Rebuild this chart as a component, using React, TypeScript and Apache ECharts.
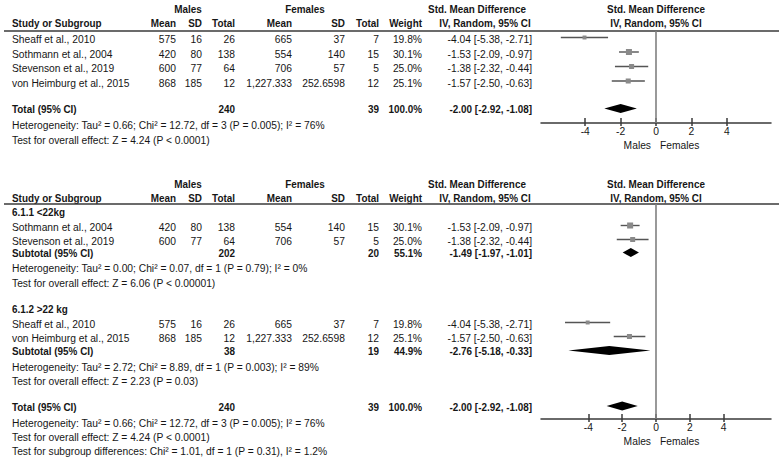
import React, { useEffect, useRef } from "react";
import * as echarts from "echarts";

// ---------------- DATA ----------------
const studies = ["Sheaff et al., 2010", "Sothmann et al., 2004", "Stevenson et al., 2019", "von Heimburg et al., 2015"];
const maleMean = ["575", "420", "600", "868"];
const maleSD = ["16", "80", "77", "185"];
const maleN = [26, 138, 64, 12];
const femaleMean = ["665", "554", "706", "1,227.333"];
const femaleSD = ["37", "140", "57", "252.6598"];
const femaleN = [7, 15, 5, 12];
const weights = [19.8, 30.1, 25.0, 25.1];
const smd = [-4.04, -1.53, -1.38, -1.57];
const ciLow = [-5.38, -2.09, -2.32, -2.5];
const ciHigh = [-2.71, -0.97, -0.44, -0.63];

const overallN = [240, 39];
const overallWeight = 100.0;
const overallEffect = [-2.0, -2.92, -1.08];
const overallHet = "Heterogeneity: Tau\u00b2 = 0.66; Chi\u00b2 = 12.72, df = 3 (P = 0.005); I\u00b2 = 76%";
const overallTest = "Test for overall effect: Z = 4.24 (P < 0.0001)";
const subgroupDiffTest = "Test for subgroup differences: Chi\u00b2 = 1.01, df = 1 (P = 0.31), I\u00b2 = 1.2%";

const subgroupNames = ["6.1.1 <22kg", "6.1.2 >22 kg"];
const subgroupMembers = [[1, 2], [0, 3]];
const subgroupN = [[202, 20], [38, 19]];
const subgroupWeight = [55.1, 44.9];
const subgroupEffect = [[-1.49, -1.97, -1.01], [-2.76, -5.18, -0.33]];
const subgroupHet = [
  "Heterogeneity: Tau\u00b2 = 0.00; Chi\u00b2 = 0.07, df = 1 (P = 0.79); I\u00b2 = 0%",
  "Heterogeneity: Tau\u00b2 = 2.72; Chi\u00b2 = 8.89, df = 1 (P = 0.003); I\u00b2 = 89%",
];
const subgroupTest = ["Test for overall effect: Z = 6.06 (P < 0.00001)", "Test for overall effect: Z = 2.23 (P = 0.03)"];

const xTicks = [-4, -2, 0, 2, 4];
const favourLabels = ["Males", "Females"];

// ---------------- LAYOUT ----------------
const FONT = "'Liberation Sans', Arial, Helvetica, sans-serif";
const FS = 11;
const SX = 0.935;
const SX_BOLD = 0.9;
const TXT = "#161616";
const COL = { study: 12, mMean: 176, mSD: 202, mN: 235, fMean: 292, fSD: 345, fN: 379, w: 422, ci: 532, males: 188, females: 305, smdHdr: 477, ivHdr: 485, plot: 656 };
const MARK_OFF = 1.5;

const TOP = { hdr1: 9, hdr2: 23, line: 31, rows: [39, 53.5, 68, 82.5], total: 109, het: 125, test: 140, axis: 123, fav: 145, range: 6.5 };
const BOT = {
  hdr1: 184, hdr2: 198, line: 204,
  sub: [
    { title: 212, rows: [227, 241], subtotal: 253, het: 268, test: 283 },
    { title: 309, rows: [324, 338], subtotal: 351, het: 367, test: 381 },
  ],
  total: 407, het: 423, test: 437, diff: 451, axis: 419, fav: 441, range: 6.8,
};
const PLOT_LEFT = 541;
const PLOT_W = 230;

function fmtCI(e: number[]) {
  return `${e[0].toFixed(2)} [${e[1].toFixed(2)}, ${e[2].toFixed(2)}]`;
}

function txt(x: number, y: number, text: string, align = "left", bold = false) {
  return {
    type: "text",
    x,
    y,
    scaleX: bold ? SX_BOLD : SX,
    silent: true,
    style: { text, fill: TXT, fontFamily: FONT, fontSize: FS, fontWeight: bold ? "bold" : "normal", align, verticalAlign: "middle" },
  };
}

function headers(y1: number, y2: number, lineY: number) {
  return [
    txt(COL.males, y1, "Males", "center", true),
    txt(COL.females, y1, "Females", "center", true),
    txt(COL.smdHdr, y1, "Std. Mean Difference", "center", true),
    txt(COL.plot, y1, "Std. Mean Difference", "center", true),
    txt(COL.study, y2, "Study or Subgroup", "left", true),
    txt(COL.mMean, y2, "Mean", "right", true),
    txt(COL.mSD, y2, "SD", "right", true),
    txt(COL.mN, y2, "Total", "right", true),
    txt(COL.fMean, y2, "Mean", "right", true),
    txt(COL.fSD, y2, "SD", "right", true),
    txt(COL.fN, y2, "Total", "right", true),
    txt(COL.w, y2, "Weight", "right", true),
    txt(COL.ivHdr, y2, "IV, Random, 95% CI", "center", true),
    txt(COL.plot, y2, "IV, Random, 95% CI", "center", true),
    { type: "line", silent: true, shape: { x1: 4, y1: lineY, x2: 779, y2: lineY }, style: { stroke: "#3a3a3a", lineWidth: 1.5 } },
  ];
}

function studyRow(i: number, y: number) {
  return [
    txt(COL.study, y, studies[i]),
    txt(COL.mMean, y, maleMean[i], "right"),
    txt(COL.mSD, y, maleSD[i], "right"),
    txt(COL.mN, y, String(maleN[i]), "right"),
    txt(COL.fMean, y, femaleMean[i], "right"),
    txt(COL.fSD, y, femaleSD[i], "right"),
    txt(COL.fN, y, String(femaleN[i]), "right"),
    txt(COL.w, y, weights[i].toFixed(1) + "%", "right"),
    txt(COL.ci, y, fmtCI([smd[i], ciLow[i], ciHigh[i]]), "right"),
  ];
}

function pooledRow(label: string, y: number, n: number[], w: number, e: number[]) {
  return [
    txt(COL.study, y, label, "left", true),
    txt(COL.mN, y, String(n[0]), "right", true),
    txt(COL.fN, y, String(n[1]), "right", true),
    txt(COL.w, y, w.toFixed(1) + "%", "right", true),
    txt(COL.ci, y, fmtCI(e), "right", true),
  ];
}

function favour(y: number) {
  return [txt(COL.plot - 5, y, favourLabels[0], "right"), txt(COL.plot + 4, y, favourLabels[1], "left")];
}

function buildOption() {
  const g: any[] = [];
  // Top panel
  g.push(...headers(TOP.hdr1, TOP.hdr2, TOP.line));
  studies.forEach((_, i) => g.push(...studyRow(i, TOP.rows[i])));
  g.push(...pooledRow("Total (95% CI)", TOP.total, overallN, overallWeight, overallEffect));
  g.push(txt(COL.study, TOP.het, overallHet), txt(COL.study, TOP.test, overallTest));
  g.push(...favour(TOP.fav));

  // Bottom panel
  g.push(...headers(BOT.hdr1, BOT.hdr2, BOT.line));
  subgroupNames.forEach((name, s) => {
    const L = BOT.sub[s];
    g.push(txt(COL.study, L.title, name, "left", true));
    subgroupMembers[s].forEach((idx, k) => g.push(...studyRow(idx, L.rows[k])));
    g.push(...pooledRow("Subtotal (95% CI)", L.subtotal, subgroupN[s], subgroupWeight[s], subgroupEffect[s]));
    g.push(txt(COL.study, L.het, subgroupHet[s]), txt(COL.study, L.test, subgroupTest[s]));
  });
  g.push(...pooledRow("Total (95% CI)", BOT.total, overallN, overallWeight, overallEffect));
  g.push(txt(COL.study, BOT.het, overallHet), txt(COL.study, BOT.test, overallTest), txt(COL.study, BOT.diff, subgroupDiffTest));
  g.push(...favour(BOT.fav));

  // Marks data: [est, lo, hi, y, size, kind]
  const topData: number[][] = studies.map((_, i) => [smd[i], ciLow[i], ciHigh[i], TOP.rows[i] - MARK_OFF, weights[i], 0]);
  topData.push([overallEffect[0], overallEffect[1], overallEffect[2], TOP.total - 0.5, overallWeight, 1]);

  const botData: number[][] = [];
  subgroupNames.forEach((_, s) => {
    const L = BOT.sub[s];
    subgroupMembers[s].forEach((idx, k) => botData.push([smd[idx], ciLow[idx], ciHigh[idx], L.rows[k] - MARK_OFF, weights[idx], 0]));
    const e = subgroupEffect[s];
    botData.push([e[0], e[1], e[2], L.subtotal - 0.5, subgroupWeight[s], 1]);
  });
  botData.push([overallEffect[0], overallEffect[1], overallEffect[2], BOT.total - 1, overallWeight, 1]);

  const renderItem = (params: any, api: any) => {
    const est = api.value(0), lo = api.value(1), hi = api.value(2), y = api.value(3), w = api.value(4), kind = api.value(5);
    const pLo = api.coord([lo, y]);
    const pHi = api.coord([hi, y]);
    const pE = api.coord([est, y]);
    if (kind === 0) {
      const s = w * 0.2;
      return {
        type: "group",
        children: [
          { type: "line", shape: { x1: pLo[0], y1: pE[1], x2: pHi[0], y2: pE[1] }, style: { stroke: "#555555", lineWidth: 1.4 } },
          { type: "rect", shape: { x: pE[0] - s / 2, y: pE[1] - s / 2, width: s, height: s }, style: { fill: "#8a8a8a" } },
        ],
      };
    }
    const h = 4.6;
    return {
      type: "polygon",
      shape: { points: [[pLo[0], pE[1]], [pE[0], pE[1] - h], [pHi[0], pE[1]], [pE[0], pE[1] + h]] },
      style: { fill: "#000000" },
    };
  };

  const mkXAxes = (gridIndex: number, range: number) => [
    {
      type: "value", gridIndex, min: -range, max: range, position: "bottom",
      axisLine: { show: true, lineStyle: { color: "#3a3a3a", width: 1.5 } },
      axisTick: { show: true, inside: false, length: 3, customValues: xTicks, lineStyle: { color: "#3a3a3a", width: 1.5 } },
      axisLabel: { show: true, customValues: xTicks, color: TXT, fontFamily: FONT, fontSize: 10.3, margin: 3 },
      splitLine: { show: false },
    },
    {
      type: "value", gridIndex, min: -range, max: range, position: "bottom", offset: 0,
      axisLine: { show: false },
      axisTick: { show: true, inside: true, length: 5, customValues: xTicks, lineStyle: { color: "#3a3a3a", width: 1.5 } },
      axisLabel: { show: false },
      splitLine: { show: false },
    },
  ];

  const zeroLine = {
    silent: true, symbol: "none", label: { show: false },
    lineStyle: { color: "#808080", width: 1.6, type: "solid" },
    data: [{ xAxis: 0 }],
  };

  return {
    animation: false,
    backgroundColor: "#ffffff",
    grid: [
      { left: PLOT_LEFT, top: TOP.line, width: PLOT_W, height: TOP.axis - TOP.line },
      { left: PLOT_LEFT, top: BOT.line, width: PLOT_W, height: BOT.axis - BOT.line },
    ],
    xAxis: [...mkXAxes(0, TOP.range), ...mkXAxes(1, BOT.range)],
    yAxis: [
      { type: "value", gridIndex: 0, min: TOP.line, max: TOP.axis, inverse: true, show: false, splitLine: { show: false } },
      { type: "value", gridIndex: 1, min: BOT.line, max: BOT.axis, inverse: true, show: false, splitLine: { show: false } },
    ],
    series: [
      { type: "custom", xAxisIndex: 0, yAxisIndex: 0, renderItem, data: topData, encode: { x: [0, 1, 2], y: 3 }, clip: false, silent: true, markLine: zeroLine },
      { type: "custom", xAxisIndex: 2, yAxisIndex: 1, renderItem, data: botData, encode: { x: [0, 1, 2], y: 3 }, clip: false, silent: true, markLine: zeroLine },
    ],
    graphic: g,
  };
}

export default function App() {
  const ref = useRef<HTMLDivElement>(null);
  useEffect(() => {
    if (!ref.current) return;
    const chart = echarts.init(ref.current, null, { renderer: "svg" });
    chart.setOption(buildOption() as any);
    return () => chart.dispose();
  }, []);
  return <div ref={ref} style={{ position: "fixed", left: 0, top: 0, width: 784, height: 458, background: "#fff" }} />;
}
